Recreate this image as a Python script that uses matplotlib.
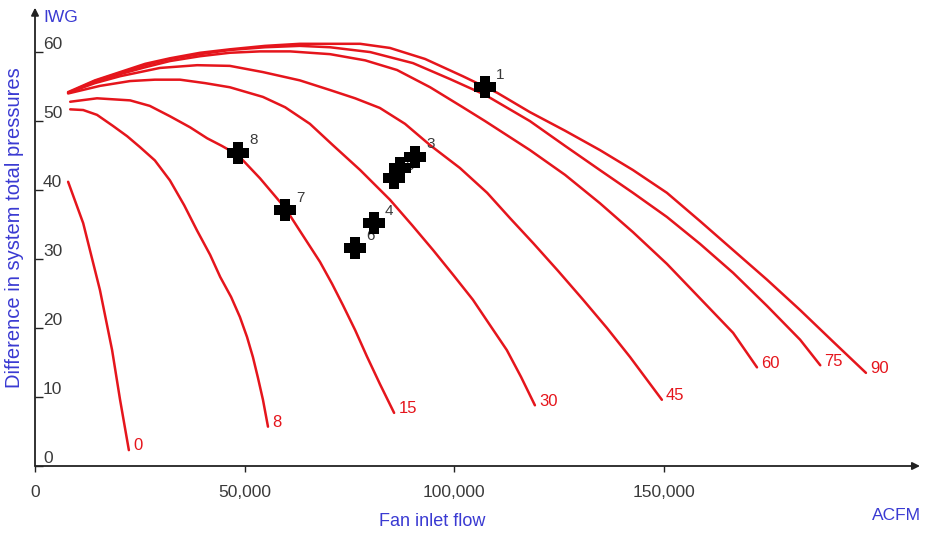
import numpy as np
import matplotlib.pyplot as plt

plt.rcParams["font.family"] = ["Liberation Sans", "DejaVu Sans"]

RED = "#e5151c"
BLUE = "#3a3ad2"
GREY = "#3a3a3a"

# fan curves for each inlet vane setting: flow (ACFM) vs pressure rise (IWG)
vane_labels = ["0", "8", "15", "30", "45", "60", "75", "90"]

flow_0 = [7900, 11500, 15500, 18400, 20300, 22400]
dp_0 = [41.2, 35.2, 25.5, 16.8, 9.6, 2.3]

flow_8 = [8400, 11500, 14800, 18600, 22000, 25100, 28600, 32200, 35600, 38700,
          41800, 44200, 46800, 48900, 50600, 52000, 53200, 54400, 55600]
dp_8 = [51.7, 51.6, 50.9, 49.3, 47.8, 46.2, 44.3, 41.4, 37.8, 34.1,
        30.6, 27.4, 24.5, 21.6, 18.7, 15.8, 12.8, 9.6, 5.7]

flow_15 = [8400, 14800, 22700, 27400, 32200, 37000, 41100, 44600, 48400, 53700,
           59700, 63200, 68000, 70900, 73500, 76400, 79200, 82300, 85700]
dp_15 = [52.8, 53.3, 53.0, 52.2, 50.7, 49.1, 47.5, 46.4, 45.1, 41.7,
         37.4, 34.1, 29.6, 26.4, 23.3, 19.7, 15.9, 11.9, 7.7]

flow_30 = [7900, 15500, 22700, 28600, 34600, 40600, 46500, 54400, 59700, 65600,
           71100, 77600, 84700, 90000, 95000, 99800, 104500, 108600, 112600, 116000, 119300]
dp_30 = [54.0, 55.1, 55.8, 56.0, 56.0, 55.5, 54.9, 53.5, 52.0, 49.6,
         46.5, 42.9, 38.6, 34.9, 31.3, 27.7, 24.1, 20.4, 16.8, 12.9, 8.8]

flow_45 = [7900, 14300, 20300, 29800, 38700, 46500, 54400, 63200, 70400, 76400, 82300,
           88300, 94300, 101400, 107900, 113400, 118900, 124800, 130800, 136500, 142000, 149600]
dp_45 = [54.1, 55.5, 56.5, 57.7, 58.1, 58.0, 57.1, 55.9, 54.5, 53.3, 51.9,
         49.6, 46.5, 43.2, 39.6, 35.9, 32.3, 28.3, 24.1, 20.0, 15.8, 9.6]

flow_60 = [7900, 14300, 20300, 26300, 32200, 39400, 46500, 53700, 60900, 70400, 78800, 86400,
           94300, 102100, 107400, 118100, 126500, 134800, 142700, 150800, 158700, 166600, 172300]
dp_60 = [54.1, 55.7, 56.8, 57.8, 58.7, 59.4, 59.9, 60.1, 60.1, 59.7, 58.8, 57.4,
         54.9, 52.0, 50.0, 45.8, 42.2, 38.1, 33.9, 29.3, 24.3, 19.3, 14.3]

flow_75 = [7900, 14300, 20300, 26300, 32200, 39400, 46500, 54900, 63200, 70400, 80000, 90200,
           99000, 107400, 118100, 126500, 134800, 142700, 150800, 158700, 166600, 174700,
           182600, 187400]
dp_75 = [54.1, 55.8, 57.0, 58.1, 59.0, 59.7, 60.3, 60.7, 60.9, 60.7, 60.0, 58.4,
         56.1, 53.8, 50.0, 46.4, 42.9, 39.6, 36.1, 32.2, 28.0, 23.2,
         18.3, 14.6]

flow_90 = [7900, 14300, 20300, 26300, 32200, 39400, 46500, 54900, 63200, 70400, 77600, 84700,
           93100, 102100, 110300, 118100, 126500, 134800, 142700, 150800, 158700, 166600,
           174700, 182600, 190500, 198300]
dp_90 = [54.2, 55.9, 57.1, 58.3, 59.1, 59.9, 60.4, 60.9, 61.2, 61.2, 61.2, 60.6,
         59.0, 56.5, 54.1, 51.3, 48.6, 45.8, 42.9, 39.6, 35.5, 31.3,
         27.0, 22.6, 18.0, 13.5]

curve_flows = [flow_0, flow_8, flow_15, flow_30, flow_45, flow_60, flow_75, flow_90]
curve_dps = [dp_0, dp_8, dp_15, dp_30, dp_45, dp_60, dp_75, dp_90]

# measured operating points
point_ids = ["1", "2", "3", "4", "5", "6", "7", "8"]
point_flow = [107400, 87100, 90700, 80900, 85700, 76400, 59700, 48400]
point_dp = [54.9, 43.2, 44.8, 35.2, 41.7, 31.6, 37.1, 45.4]

y_ticks = [0, 10, 20, 30, 40, 50, 60]
x_ticks = [0, 50000, 100000, 150000]
x_tick_labels = ["0", "50,000", "100,000", "150,000"]

# bold plus sign used for the operating points
a = 0.21
plus_marker = [(-a, -0.5), (a, -0.5), (a, -a), (0.5, -a), (0.5, a), (a, a), (a, 0.5),
               (-a, 0.5), (-a, a), (-0.5, a), (-0.5, -a), (-a, -a), (-a, -0.5)]

W, H = 925, 535
fig = plt.figure(figsize=(W / 100, H / 100), dpi=100)
ax = fig.add_axes([35 / W, (H - 466) / H, 885 / W, 456 / H])
ax.set_xlim(0, 211200)
ax.set_ylim(0, 66.1)

for flows, dps, lab in zip(curve_flows, curve_dps, vane_labels):
    ax.plot(flows, dps, color=RED, lw=1.8, solid_capstyle="round",
            solid_joinstyle="round", zorder=2)
    ax.annotate(lab, (flows[-1], dps[-1]), xytext=(3, 3), textcoords="offset points",
                ha="left", va="center", color=RED, fontsize=12)

for pid, fx, py in zip(point_ids, point_flow, point_dp):
    ax.annotate(pid, (fx, py), xytext=(8, 9), textcoords="offset points",
                ha="left", va="center", color=GREY, fontsize=11, zorder=3)
ax.plot(point_flow, point_dp, ls="none", marker=plus_marker, ms=16, color="black",
        mec="black", mew=0, zorder=4)

# axes drawn as arrows
for s in ax.spines.values():
    s.set_visible(False)
arrow = dict(arrowstyle="-|>", color="#222222", lw=1.3, mutation_scale=11,
             shrinkA=0, shrinkB=0)
ax.annotate("", xy=(1, 0), xytext=(0, 0), xycoords="axes fraction", arrowprops=arrow)
ax.annotate("", xy=(0, 1.005), xytext=(0, 0), xycoords="axes fraction", arrowprops=arrow)

ax.set_xticks(x_ticks)
ax.set_xticklabels(x_tick_labels)
ax.tick_params(axis="x", direction="out", length=4, width=1, pad=10,
               labelsize=12.5, colors="#222222", labelcolor=GREY)
ax.set_yticks(y_ticks)
ax.set_yticklabels([])
ax.tick_params(axis="y", direction="in", length=6, width=1, colors="#222222")
for v in y_ticks:
    ax.text(0.009, v, str(v), transform=ax.get_yaxis_transform(),
            ha="left", va="bottom", fontsize=12.5, color=GREY)

fig.text(43 / W, 1 - 18 / H, "IWG", ha="left", va="center", color=BLUE, fontsize=12.5)
fig.text(15 / W, 1 - 228 / H, "Difference in system total pressures", rotation=90,
         ha="center", va="center", color=BLUE, fontsize=14.5)
fig.text(432 / W, 1 - 521 / H, "Fan inlet flow", ha="center", va="center",
         color=BLUE, fontsize=13)
fig.text(896 / W, 1 - 516 / H, "ACFM", ha="center", va="center", color=BLUE, fontsize=12.5)

fig.savefig("out.png", dpi=100)
